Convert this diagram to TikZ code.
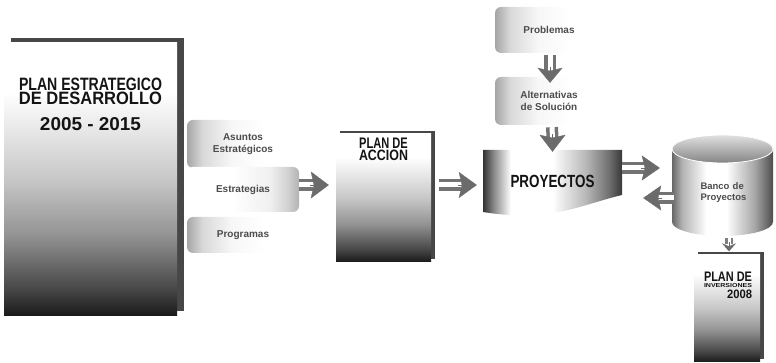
\documentclass[tikz,border=0pt]{standalone}
\usepackage{fontspec}
\setmainfont{Liberation Sans}
\usepackage{graphicx}
\usetikzlibrary{positioning,shadows,arrows.meta,calc}

\pgfdeclareverticalshading{planfill}{100bp}{color(0bp)=(black!90); color(25bp)=(black!90); color(30bp)=(black!72); color(40bp)=(black!42); color(50bp)=(black!22); color(60bp)=(black!8); color(66bp)=(white); color(100bp)=(white)}
\pgfdeclarehorizontalshading{proyfill}{100bp}{color(0bp)=(black!80); color(25bp)=(black!80); color(29bp)=(black!45); color(35bp)=(white); color(50bp)=(white); color(62bp)=(black!28); color(70bp)=(black!55); color(75bp)=(black!78); color(100bp)=(black!78)}
\pgfdeclarehorizontalshading{cylfill}{100bp}{color(0bp)=(black!60); color(25bp)=(black!60); color(30bp)=(black!30); color(42bp)=(white); color(52bp)=(white); color(66bp)=(black!35); color(75bp)=(black!70); color(100bp)=(black!70)}
\pgfdeclarehorizontalshading{cajaizq}{100bp}{color(0bp)=(black!35); color(25bp)=(black!35); color(32bp)=(black!15); color(45bp)=(black!3); color(60bp)=(white); color(100bp)=(white)}
\pgfdeclarehorizontalshading{cajader}{100bp}{color(0bp)=(white); color(45bp)=(white); color(62bp)=(black!6); color(70bp)=(black!18); color(75bp)=(black!30); color(100bp)=(black!30)}

\tikzset{
  plan/.style={shade, shading=planfill, inner sep=0pt},
  caja/.style={rounded corners=6pt, minimum width=112pt, inner sep=2pt, align=center,
    font=\bfseries\fontsize{10}{12}\selectfont, text=black!70},
  cajaL/.style={caja, shade, shading=cajaizq},
  cajaR/.style={caja, shade, shading=cajader},
  titulo/.style={inner sep=0pt, align=center, font=\bfseries, text=black!92},
  barra/.style={draw=black!55, line width=3.5pt, double=white, double distance=5pt},
  barrita/.style={draw=black!50, line width=2.5pt, double=white, double distance=3pt},
  punta/.style 2 args={-{Stealth[length=#1, width=#2, inset=3pt]}, draw=black!58, line width=0.3pt}
}

\begin{document}
\begin{tikzpicture}[x=1pt,y=1pt]
\useasboundingbox (0,0) rectangle (776,363);

% plan estrategico
\node[plan, minimum width=173pt, minimum height=273pt,
  drop shadow={shadow xshift=7pt, shadow yshift=5pt, fill=black!72, opacity=1}] (ped) at (90.5,183.5) {};
\node[titulo, font=\bfseries\fontsize{10}{14}\selectfont, below=35pt of ped.north] (ped1)
  {\resizebox{143pt}{12.5pt}{PLAN ESTRATEGICO}\\\resizebox{143pt}{12.5pt}{DE DESARROLLO}};
\node[titulo, below=12pt of ped1] (ped2) {\resizebox{101pt}{13pt}{2005 - 2015}};

% asuntos, estrategias, programas
\node[cajaL, minimum height=48pt] (ase) at (243,219) {Asuntos\\Estratégicos};
\node[cajaR, minimum height=45pt] (estr) at (243,173.5) {Estrategias};
\node[cajaL, minimum height=36pt] (prog) at (243,128) {Programas};

% plan de accion
\node[plan, minimum width=95pt, minimum height=128pt,
  drop shadow={shadow xshift=4pt, shadow yshift=3pt, fill=black!72, opacity=1}] (acc) at (383.5,165) {};
\node[titulo, font=\bfseries\fontsize{10}{12}\selectfont, below=4.3pt of acc.north] (acc1)
  {\resizebox{48.6pt}{10.5pt}{PLAN DE}\\\resizebox{49pt}{10.5pt}{ACCION}};

% problemas, alternativas
\node[cajaL, minimum width=108pt, minimum height=46pt] (prob) at (549,333) {Problemas};
\node[cajaL, minimum width=108pt, minimum height=48pt] (alt) at (549,262) {Alternativas\\de Solución};

% proyectos
\shade[shading=proyfill] (483,213) -- (622,213) -- (622,168)
  .. controls (580,158) and (550,140) .. (483,151) -- cycle;
\node[titulo, minimum width=139pt, minimum height=62.4pt] (proy) at (552.5,181.8) {\resizebox{84pt}{12.3pt}{PROYECTOS}};

% banco de proyectos
\shade[shading=cylfill] (672,214) -- (672,141)
  arc[start angle=180, end angle=360, x radius=50.5, y radius=14] -- (773,214)
  arc[start angle=0, end angle=180, x radius=50.5, y radius=14] -- cycle;
\shade[top color=black!12, bottom color=black!48, draw=white, line width=0.8pt]
  (722.5,214) ellipse [x radius=50.5, y radius=14];
\node[text width=48pt, align=left, minimum width=101pt, minimum height=87pt, inner sep=0pt,
  font=\bfseries\fontsize{9.5}{11}\selectfont, text=black!70] (banco) at (724.5,170.5) {Banco de\\Proyectos};

% plan de inversiones
\node[plan, minimum width=66pt, minimum height=107.5pt,
  drop shadow={shadow xshift=4pt, shadow yshift=2.5pt, fill=black!72, opacity=1}] (inv) at (727,54.75) {};
\node[titulo, anchor=north east] (inv1) at ([xshift=-8pt,yshift=-18pt]inv.north east) {\resizebox{48pt}{9.5pt}{PLAN DE}};
\node[titulo, anchor=north east] (inv2) at ([yshift=-1.5pt]inv1.south east) {\resizebox{48pt}{4pt}{INVERSIONES}};
\node[titulo, anchor=north east] (inv3) at ([yshift=-1.5pt]inv2.south east) {\resizebox{25pt}{8.5pt}{2008}};

% flechas
\coordinate (f1a) at ([yshift=4.5pt]estr.east);
\coordinate (f1b) at ([xshift=-7pt,yshift=13pt]acc.west);
\draw[barra] (f1a) -- ($(f1b)+(-16,0)$);
\draw[punta={18pt}{27pt}] ($(f1b)+(-19,0)$) -- (f1b);

\coordinate (f2a) at ([xshift=8pt,yshift=13pt]acc.east);
\coordinate (f2b) at ([xshift=-6pt,yshift=-3.8pt]proy.west);
\draw[barra] (f2a) -- ($(f2b)+(-16,0)$);
\draw[punta={18pt}{26pt}] ($(f2b)+(-19,0)$) -- (f2b);

\coordinate (f3a) at ([xshift=1pt,yshift=-2pt]prob.south);
\coordinate (f3b) at ([xshift=1pt,yshift=-6pt]alt.north);
\draw[barra] (f3a) -- ($(f3b)+(0,13)$);
\draw[punta={15pt}{25pt}] ($(f3b)+(0,16)$) -- (f3b);

\coordinate (f4a) at ([xshift=3pt,yshift=-2pt]alt.south);
\coordinate (f4b) at ([yshift=-2pt]proy.north);
\draw[barra] (f4a) -- ($(f4b)+(0,14)$);
\draw[punta={17pt}{26pt}] ($(f4b)+(0,18)$) -- (f4b);

\coordinate (f5a) at ([yshift=13.2pt]proy.east);
\coordinate (f5b) at ([xshift=-14pt,yshift=24.5pt]banco.west);
\draw[barra] (f5a) -- ($(f5b)+(-16,0)$);
\draw[punta={18pt}{25pt}] ($(f5b)+(-19,0)$) -- (f5b);

\coordinate (f6a) at ([yshift=-5.5pt]banco.west);
\coordinate (f6b) at ([xshift=21pt,yshift=-16.8pt]proy.east);
\draw[barra] (f6a) -- ($(f6b)+(16,0)$);
\draw[punta={18pt}{25pt}] ($(f6b)+(19,0)$) -- (f6b);

\coordinate (f7a) at ([xshift=4.5pt,yshift=-2pt]banco.south);
\coordinate (f7b) at ([xshift=2pt,yshift=3pt]inv.north);
\draw[barrita] (f7a) -- ($(f7b)+(0,7)$);
\draw[punta={8pt}{14pt}] ($(f7b)+(0,9)$) -- (f7b);
\end{tikzpicture}
\end{document}
